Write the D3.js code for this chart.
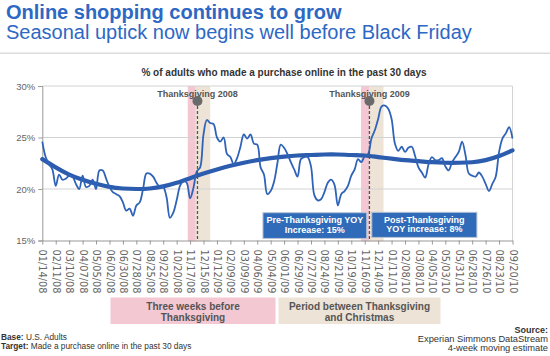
<!DOCTYPE html>
<html><head><meta charset="utf-8">
<script src="https://cdn.jsdelivr.net/npm/d3@7"></script>
<style>
body{margin:0;background:#fff;}
svg{display:block;font-family:"Liberation Sans",Arial,Helvetica,sans-serif;}
</style>
</head><body>
<svg id="c" width="550" height="356"></svg>
<script>
// ---- data ----
const tickLabels = ["01/14/08","02/11/08","03/10/08","04/07/08","05/05/08","06/02/08","06/30/08","07/28/08","08/25/08","09/22/08","10/20/08","11/17/08","12/15/08","01/12/09","02/09/09","03/09/09","04/06/09","05/04/09","06/01/09","06/29/09","07/27/09","08/24/09","09/21/09","10/19/09","11/16/09","12/14/09","01/11/10","02/08/10","03/08/10","04/05/10","05/03/10","05/31/10","06/28/10","07/26/10","08/23/10","09/20/10"];
// weekly % of adults who purchased online in past 30 days (week 0 = 01/14/08)
const share = [24.6,23.1,22.4,21.9,20.3,21.4,20.9,21.0,21.3,21.2,
  20.5,20.0,21.3,20.2,20.3,20.9,20.0,21.8,21.8,21.0,
  20.2,19.7,19.5,19.3,18.7,17.9,18.1,17.4,18.4,18.7,
  20.0,21.5,21.5,21.2,20.6,20.2,20.2,19.2,17.2,17.7,
  18.9,20.3,20.8,20.6,19.1,20.1,21.7,22.1,25.3,26.7,
  26.4,26.3,25.0,24.6,25.0,23.4,23.1,22.4,23.0,24.1,
  25.3,24.9,25.3,24.4,24.3,22.1,21.4,19.5,19.8,20.7,
  22.5,24.3,24.0,23.4,22.6,21.9,21.2,22.9,23.1,23.1,
  22.2,19.4,18.9,19.0,19.7,20.6,20.9,20.4,18.4,19.5,
  19.8,20.3,21.3,21.9,22.9,22.6,23.2,23.4,24.9,25.7,
  26.8,28.0,28.1,27.8,26.8,24.4,23.7,24.1,23.6,24.0,
  24.1,23.2,22.1,21.6,21.1,22.4,23.1,22.8,22.8,23.0,
  22.2,21.8,22.6,23.1,23.6,24.6,23.3,21.5,21.3,21.2,
  21.6,21.2,20.5,19.8,20.5,21.2,23.6,24.9,25.4,26.0,24.9];
// trend line read every 4 weeks
const trend = [22.9,22.1,21.4,20.9,20.5,20.2,20.05,20.0,20.05,20.25,
  20.6,21.05,21.5,21.9,22.25,22.55,22.8,23.0,23.15,23.25,
  23.3,23.35,23.35,23.3,23.25,23.1,22.95,22.8,22.7,22.6,
  22.55,22.55,22.6,22.8,23.2,23.75];
const holidays = [
  {label:"Thanksgiving 2008", week:46.2, preStart:43.3, split:45.7, postEnd:50.0},
  {label:"Thanksgiving 2009", week:97.4, preStart:94.9, split:97.3, postEnd:101.6}
];
const yTicks = [15,20,25,30];
const callouts = [
  {lines:["Pre-Thanksgiving YOY","Increase: 15%"], w0:65.7, w1:96.6, v0:15.2, v1:17.7},
  {lines:["Post-Thanksgiving","YOY increase: 8%"], w0:98.1, w1:129.4, v0:15.3, v1:17.74}
];
const legendItems = [
  {lines:["Three weeks before","Thanksgiving"], color:"#f3c8d3", x0:110.5, x1:275.5},
  {lines:["Period between Thanksgiving","and Christmas"], color:"#ede3d6", x0:278.5, x1:440.5}
];

// ---- drawing ----
const svg = d3.select("#c");
const blue = "#2d68c4";
const lineBlue = "#2f63b8";
const x = d3.scaleLinear().domain([0,140]).range([42.3,512.5]);
const y = d3.scaleLinear().domain([15,30]).range([240.5,86]);

// titles
svg.append("text").attr("x",6).attr("y",19).attr("font-size",20).attr("font-weight","bold").attr("fill",blue).text("Online shopping continues to grow");
svg.append("text").attr("x",6).attr("y",39).attr("font-size",20).attr("fill",blue).text("Seasonal uptick now begins well before Black Friday");
svg.append("rect").attr("x",0).attr("y",52.5).attr("width",550).attr("height",1.5).attr("fill","#dcdcdc");
svg.append("text").attr("x",284).attr("y",75.5).attr("text-anchor","middle").attr("font-size",10).attr("font-weight","bold").attr("fill","#333").text("% of adults who made a purchase online in the past 30 days");

// bands
const bands = svg.append("g");
holidays.forEach(h=>{
  bands.append("rect").attr("x",x(h.preStart)).attr("width",x(h.split)-x(h.preStart)).attr("y",y(30)).attr("height",y(15)-y(30)+1).attr("fill","#f3c8d3");
  bands.append("rect").attr("x",x(h.split)).attr("width",x(h.postEnd)-x(h.split)).attr("y",y(30)).attr("height",y(15)-y(30)+1).attr("fill","#ede3d6");
});

// grid
svg.append("g").selectAll("line").data(yTicks.filter(d=>d>15)).join("line")
  .attr("x1",x(0)).attr("x2",x(140)).attr("y1",d=>y(d)).attr("y2",d=>y(d))
  .attr("stroke","#d3d3d3").attr("stroke-width",1);
svg.append("line").attr("x1",x(140)).attr("x2",x(140)).attr("y1",y(30)).attr("y2",y(15)).attr("stroke","#d3d3d3");

// axes
const yAxis = svg.append("g").attr("transform",`translate(${x(0)},0)`)
  .call(d3.axisLeft(y).tickValues(yTicks).tickFormat(d=>d+"%").tickSize(4).tickPadding(3));
yAxis.select(".domain").attr("stroke","#999");
yAxis.selectAll(".tick line").attr("stroke","#999");
yAxis.selectAll("text").attr("font-size",9.5).attr("fill","#666").attr("font-family",'"Liberation Sans",Arial,sans-serif');

const xAxis = svg.append("g").attr("transform",`translate(0,${y(15)})`)
  .call(d3.axisBottom(x).tickValues(d3.range(0,141,4)).tickFormat((d,i)=>tickLabels[i]).tickSize(4).tickSizeOuter(0));
xAxis.select(".domain").attr("stroke","#999");
xAxis.selectAll(".tick line").attr("stroke","#999");
xAxis.selectAll("text").attr("font-size",9.8).attr("fill","#666")
  .attr("font-family",'"DejaVu Sans",Verdana,sans-serif')
  .attr("transform","rotate(90)").attr("x",9).attr("y",0).attr("dy","0.35em").style("text-anchor","start");

// trend
svg.append("path").datum(trend)
  .attr("d", d3.line().x((d,i)=>x(i*4)).y(d=>y(d)).curve(d3.curveNatural))
  .attr("fill","none").attr("stroke","#2b5cae").attr("stroke-width",4.2).attr("stroke-linecap","round");
// data line
svg.append("path").datum(share)
  .attr("d", d3.line().x((d,i)=>x(i)).y(d=>y(d)).curve(d3.curveCatmullRom.alpha(0.5)))
  .attr("fill","none").attr("stroke",lineBlue).attr("stroke-width",1.8).attr("stroke-linejoin","round");

// thanksgiving markers
holidays.forEach(h=>{
  svg.append("text").attr("x",x(h.week)).attr("y",97).attr("text-anchor","middle").attr("font-size",9).attr("font-weight","bold").attr("fill","#555").text(h.label);
  svg.append("line").attr("x1",x(h.week)).attr("x2",x(h.week)).attr("y1",101).attr("y2",y(15))
    .attr("stroke","#555").attr("stroke-width",1.3).attr("stroke-dasharray","3,2");
  svg.append("circle").attr("cx",x(h.week)).attr("cy",101).attr("r",5).attr("fill","#6a6a6a");
});

// callouts
callouts.forEach(c=>{
  const x0=x(c.w0), x1=x(c.w1), y0=y(c.v1), y1=y(c.v0);
  svg.append("rect").attr("x",x0).attr("y",y0).attr("width",x1-x0).attr("height",y1-y0)
    .attr("fill","#2f6bb8").attr("stroke","#b9c4d6").attr("stroke-width",1);
  c.lines.forEach((t,i)=>{
    svg.append("text").attr("x",(x0+x1)/2).attr("y",y0+10.5+i*9.5).attr("text-anchor","middle")
      .attr("font-size",9).attr("font-weight","bold").attr("fill","#fff").text(t);
  });
});

// legend
legendItems.forEach(l=>{
  svg.append("rect").attr("x",l.x0).attr("y",297.5).attr("width",l.x1-l.x0).attr("height",26.5).attr("fill",l.color);
  l.lines.forEach((t,i)=>{
    svg.append("text").attr("x",(l.x0+l.x1)/2).attr("y",310+i*11).attr("text-anchor","middle")
      .attr("font-size",10).attr("font-weight","bold").attr("fill","#555").text(t);
  });
});

// footer
const f1 = svg.append("text").attr("x",1).attr("y",339.5).attr("font-size",8.3).attr("fill","#333");
f1.append("tspan").attr("font-weight","bold").text("Base:");
f1.append("tspan").text(" U.S. Adults");
const f2 = svg.append("text").attr("x",1).attr("y",349).attr("font-size",8.3).attr("fill","#333");
f2.append("tspan").attr("font-weight","bold").text("Target:");
f2.append("tspan").text(" Made a purchase online in the past 30 days");
[["Source:",true,333],["Experian Simmons DataStream",false,342],["4-week moving estimate",false,351]].forEach(([t,b,yy])=>{
  svg.append("text").attr("x",548).attr("y",yy).attr("text-anchor","end").attr("font-size",b?9:9.3)
    .attr("font-weight",b?"bold":"normal").attr("fill","#333").text(t);
});
</script>
</body></html>
